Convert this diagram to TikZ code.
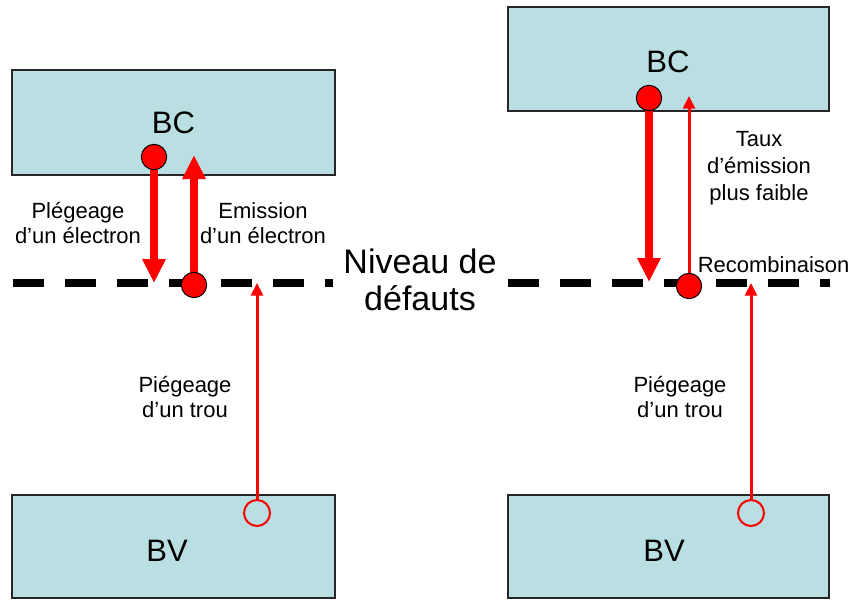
\documentclass[tikz,border=0pt]{standalone}
\usepackage{fontspec}
\setmainfont{Liberation Sans}
\usetikzlibrary{arrows.meta}
\definecolor{bandfill}{RGB}{185,223,227}
\definecolor{myred}{RGB}{255,0,0}
\pgfdeclarelayer{bg}
\pgfdeclarelayer{mid}
\pgfsetlayers{bg,mid,main}
\begin{document}
\begin{tikzpicture}[x=0.75pt,y=-0.75pt,
  band/.style={draw=black!85, line width=1pt, fill=bandfill, inner sep=0pt},
  defect/.style={draw=black, line width=6pt, dash pattern=on 23.25pt off 15.75pt},
  electron/.style={circle, fill=myred, draw=black, line width=0.75pt, minimum size=19pt, inner sep=0pt},
  hole/.style={circle, draw=myred, line width=1.5pt, minimum size=19.5pt, inner sep=0pt},
  bigarrow/.style={draw=myred, line width=6pt, -{Triangle[length=18pt,width=16.5pt]}},
  thinarrow/.style={draw=myred, line width=2.25pt, -{Triangle[length=9.5pt,width=9pt]}},
  bandtext/.style={font=\fontsize{23.25}{28}\selectfont, anchor=base, inner sep=0pt},
  lbl/.style={font=\fontsize{16.5}{18.75}\selectfont, align=center, anchor=base, inner sep=0pt},
]
\useasboundingbox (0,0) rectangle (851,601);

\begin{pgfonlayer}{bg}
  \node[band, minimum width=242.25pt, minimum height=78.75pt] (bc1) at (173.5,122.5) {};
  \node[band, minimum width=242.25pt, minimum height=77.25pt] (bv1) at (173.5,546.5) {};
  \node[band, minimum width=240.75pt, minimum height=78pt] (bc2) at (668.5,59) {};
  \node[band, minimum width=240.75pt, minimum height=77.25pt] (bv2) at (668.5,546.5) {};
  \coordinate (dla) at (13,283);
  \coordinate (dlb) at (333,283);
  \coordinate (dlc) at (508,283);
  \coordinate (dld) at (830,283);
  \draw[defect] (dla) -- (dlb);
  \draw[defect] (dlc) -- (dld);
\end{pgfonlayer}

% particles
\node[electron] (e1) at (154,157) {};
\node[electron] (d1) at (194,285) {};
\node[hole] (h1) at (257,513) {};
\node[electron] (e2) at (649,98) {};
\node[electron] (d2) at (689,286) {};
\node[hole] (h2) at (751,513) {};

% arrow tips
\coordinate (t1) at (154,283);
\coordinate (t2) at (194,155);
\coordinate (t3) at (257,283);
\coordinate (t4) at (649,282);
\coordinate (t5) at (689,96);
\coordinate (t6) at (751,283);

\begin{pgfonlayer}{mid}
  \draw[bigarrow] (e1.center) -- (t1);
  \draw[bigarrow] (d1.center) -- (t2);
  \draw[thinarrow] (h1.north) -- (t3);
  \draw[bigarrow] (e2.center) -- (t4);
  \draw[thinarrow] (d2.center) -- (t5);
  \draw[thinarrow] (h2.north) -- (t6);
\end{pgfonlayer}

% texts
\node[bandtext] (tbc1) at (173.5,133) {BC};
\node[bandtext] (tbv1) at (167,561) {BV};
\node[bandtext] (tbc2) at (668,72) {BC};
\node[bandtext] (tbv2) at (664,561) {BV};
\node[font=\fontsize{25.5}{27.75}\selectfont, align=center, anchor=base, inner sep=0pt] (niv) at (420,310) {Niveau de\\défauts};
\node[lbl] (l1) at (78,243) {Plégeage\\d’un électron};
\node[lbl] (l2) at (263,243) {Emission\\d’un électron};
\node[lbl, font=\fontsize{16.5}{19.9}\selectfont] (l3) at (759,200) {Taux\\d’émission\\plus faible};
\node[lbl, anchor=base west] (l4) at (697.5,272) {Recombinaison};
\node[lbl] (l5) at (185,417) {Piégeage\\d’un trou};
\node[lbl] (l6) at (680,417) {Piégeage\\d’un trou};
\end{tikzpicture}
\end{document}
